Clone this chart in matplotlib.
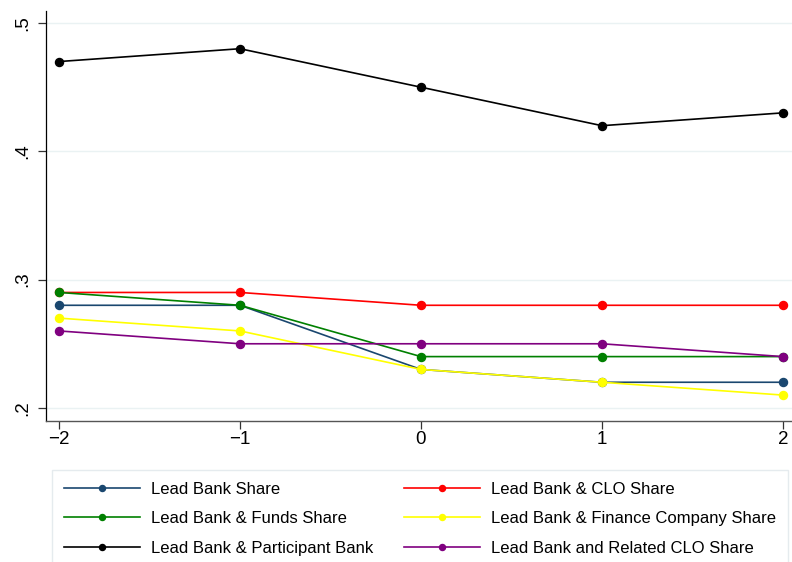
import matplotlib
matplotlib.use("Agg")
import matplotlib.pyplot as plt
from matplotlib.ticker import FuncFormatter

plt.rcParams['font.family'] = ['Liberation Sans', 'DejaVu Sans']

x = [-2, -1, 0, 1, 2]
lead_bank = [0.28, 0.28, 0.23, 0.22, 0.22]
lead_clo = [0.29, 0.29, 0.28, 0.28, 0.28]
lead_funds = [0.29, 0.28, 0.24, 0.24, 0.24]
lead_finance = [0.27, 0.26, 0.23, 0.22, 0.21]
lead_participant = [0.47, 0.48, 0.45, 0.42, 0.43]
lead_related_clo = [0.26, 0.25, 0.25, 0.25, 0.24]

series = [
    ("Lead Bank Share", lead_bank, "#1a476f"),
    ("Lead Bank & CLO Share", lead_clo, "#ff0000"),
    ("Lead Bank & Funds Share", lead_funds, "#008000"),
    ("Lead Bank & Finance Company Share", lead_finance, "#ffff00"),
    ("Lead Bank & Participant Bank", lead_participant, "#000000"),
    ("Lead Bank and Related CLO Share", lead_related_clo, "#800080"),
]

fig = plt.figure(figsize=(7.92, 5.62), dpi=100)
ax = fig.add_axes([46/792, 141/562, (792-46)/792, (421-11)/562])

handles = []
for label, vals, col in series:
    h, = ax.plot(x, vals, color=col, marker='o', markersize=5.8, linewidth=1.2, label=label)
    handles.append(h)

ax.set_xlim(-2.072, 2.05)
ax.set_ylim(0.1898, 0.5094)
ax.set_xticks(x)
ax.set_yticks([0.2, 0.3, 0.4, 0.5])
ax.yaxis.set_major_formatter(FuncFormatter(lambda v, p: ("%.1f" % v).lstrip('0')))
ax.xaxis.set_major_formatter(FuncFormatter(lambda v, p: ("%d" % v).replace('-', '\u2212')))
for lab in ax.get_yticklabels():
    lab.set_rotation(90)
    lab.set_va('center')
ax.tick_params(axis='both', labelsize=13.5, length=5.5, width=0.9, color='#333333')
ax.tick_params(axis='y', pad=5)
ax.tick_params(axis='x', pad=2)
ax.grid(axis='y', color='#eaf2f3', linewidth=1)
ax.set_axisbelow(True)
ax.spines['top'].set_visible(False)
ax.spines['right'].set_visible(False)
ax.spines['left'].set_linewidth(0.9)
ax.spines['left'].set_color('black')
ax.spines['bottom'].set_linewidth(1.0)
ax.spines['bottom'].set_color('#555555')

order = [0, 2, 4, 1, 3, 5]
leg = fig.legend([handles[i] for i in order], [series[i][0] for i in order],
                 ncol=2, loc='upper left',
                 bbox_to_anchor=(52/792, 1 - 470/562),
                 fontsize=12, frameon=True, fancybox=False,
                 handlelength=4.6, handletextpad=0.66, labelspacing=0.88,
                 borderaxespad=0, borderpad=0.7, columnspacing=1.8,
                 markerscale=0.75)
leg.get_frame().set_edgecolor('#dfe6ea')
leg.get_frame().set_linewidth(1)

fig.savefig("out.png", dpi=100)
